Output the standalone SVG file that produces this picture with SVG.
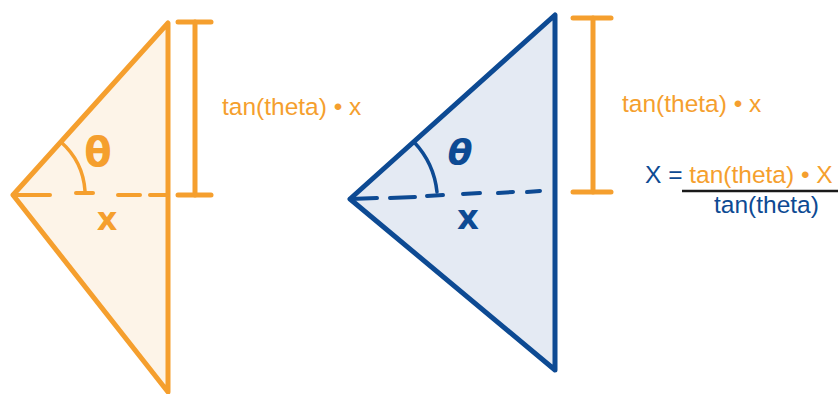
<svg xmlns="http://www.w3.org/2000/svg" width="838" height="394" viewBox="0 0 838 394">
<style>
.o{stroke:#F59F2E;fill:none;stroke-linecap:round;stroke-linejoin:round}
.b{stroke:#0D4A93;fill:none;stroke-linecap:round;stroke-linejoin:round}
.lbl{font-family:"Liberation Sans",Arial,sans-serif;font-size:24.5px}
.hand{font-family:"DejaVu Sans",sans-serif;font-weight:bold}
</style>
<rect width="838" height="394" fill="#ffffff"/>
<g id="left-triangle">
<path d="M13,195 L168,23 L168,392 Z" class="o" style="fill:#FDF4E8" stroke-width="5"/>
<g class="o" stroke-width="4">
<line x1="13" y1="195" x2="50" y2="195"/>
<line x1="118" y1="195" x2="140" y2="195"/>
<line x1="150" y1="195" x2="168" y2="195"/>
</g>
<path d="M61,142 A72,72 0 0 1 85,191" class="o" stroke-width="3.5"/>
<line x1="76" y1="193" x2="93" y2="193" class="o" stroke-width="4"/>
<text x="98" y="166" class="hand" font-size="40" fill="#F59F2E" text-anchor="middle">θ</text>
<text x="107" y="230" class="hand" font-size="32" fill="#F59F2E" text-anchor="middle">x</text>
</g>
<g id="left-bracket" class="o" stroke-width="5">
<line x1="195" y1="22" x2="195" y2="195"/>
<line x1="178" y1="22" x2="211" y2="22"/>
<line x1="178" y1="195" x2="211" y2="195"/>
</g>
<text id="left-label" x="222" y="115" class="lbl" fill="#F59F2E">tan(theta) • x</text>
<g id="right-triangle">
<path d="M350,199 L555,15 L555,370 Z" class="b" style="fill:#E4EAF3" stroke-width="5"/>
<g class="b" stroke-width="4">
<line x1="350" y1="199" x2="377" y2="198"/>
<line x1="390" y1="198" x2="415" y2="197"/>
<line x1="463" y1="194" x2="480" y2="193"/>
<line x1="498" y1="193" x2="513" y2="192"/>
<line x1="527" y1="192" x2="540" y2="191"/>
</g>
<path d="M414,142 A86,86 0 0 1 437,192" class="b" stroke-width="3.5"/>
<line x1="427" y1="196" x2="443" y2="195" class="b" stroke-width="4"/>
<text x="460" y="165" class="hand" font-size="36" font-style="italic" fill="#0D4A93" text-anchor="middle">θ</text>
<text x="468" y="229" class="hand" font-size="34" fill="#0D4A93" text-anchor="middle">x</text>
</g>
<g id="right-bracket" class="o" stroke-width="5">
<line x1="593" y1="18" x2="593" y2="192"/>
<line x1="573" y1="18" x2="611" y2="18"/>
<line x1="573" y1="192" x2="611" y2="192"/>
</g>
<text id="right-label" x="622" y="112" class="lbl" fill="#F59F2E">tan(theta) • x</text>
<g id="formula">
<text x="645" y="183" class="lbl" fill="#0D4A93">X = <tspan fill="#F59F2E">tan(theta) • X</tspan></text>
<line x1="682" y1="191" x2="838" y2="191" stroke="#1a1a1a" stroke-width="2.5"/>
<text x="714" y="213" class="lbl" fill="#0D4A93">tan(theta)</text>
</g>
</svg>
